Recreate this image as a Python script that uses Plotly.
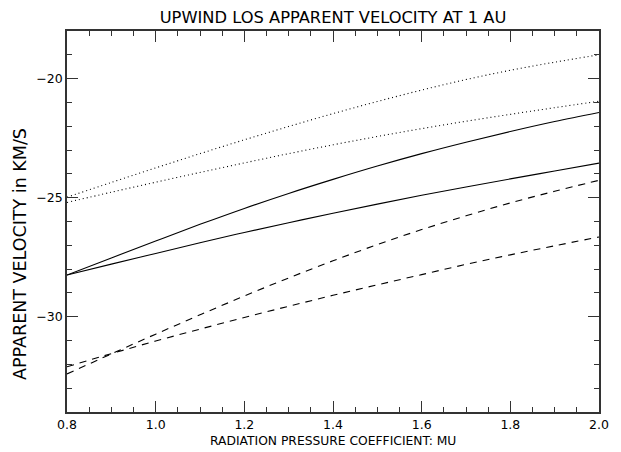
import plotly.graph_objects as go

mu = [0.8, 0.9, 1.0, 1.1, 1.2, 1.3, 1.4, 1.5, 1.6, 1.7, 1.8, 1.9, 2.0]

dotted_upper = [-24.98, -24.36, -23.75, -23.15, -22.57, -22.01, -21.47, -20.96, -20.48, -20.04, -19.65, -19.31, -19.00]
dotted_lower = [-25.20, -24.77, -24.35, -23.94, -23.54, -23.15, -22.78, -22.43, -22.10, -21.79, -21.50, -21.22, -20.95]
solid_upper = [-28.25, -27.53, -26.82, -26.12, -25.45, -24.82, -24.23, -23.67, -23.15, -22.67, -22.22, -21.80, -21.42]
solid_lower = [-28.25, -27.79, -27.34, -26.89, -26.46, -26.05, -25.65, -25.27, -24.90, -24.55, -24.21, -23.88, -23.55]
dashed_upper = [-32.40, -31.56, -30.73, -29.92, -29.13, -28.37, -27.65, -26.97, -26.34, -25.76, -25.22, -24.73, -24.27]
dashed_lower = [-32.10, -31.55, -31.02, -30.52, -30.03, -29.56, -29.10, -28.66, -28.23, -27.80, -27.40, -27.02, -26.65]

x_ticks = [0.8, 1.0, 1.2, 1.4, 1.6, 1.8, 2.0]
x_ticktext = ["0.8", "1.0", "1.2", "1.4", "1.6", "1.8", "2.0"]
y_ticks = [-30, -25, -20]
y_ticktext = ["\u221230", "\u221225", "\u221220"]

FONT = "DejaVu Sans"
fig = go.Figure()
series = [
    (dotted_upper, "1px,3px"),
    (dotted_lower, "1px,3px"),
    (solid_upper, "solid"),
    (solid_lower, "solid"),
    (dashed_upper, "7px,6px"),
    (dashed_lower, "7px,6px"),
]
for ys, dash in series:
    fig.add_trace(go.Scatter(x=mu, y=ys, mode="lines",
                             line=dict(color="black", width=1.1, dash=dash, shape="spline", smoothing=1.0),
                             showlegend=False, hoverinfo="skip"))

axis_common = dict(
    showgrid=False, zeroline=False, showline=True, linecolor="#333", linewidth=1.5,
    mirror="ticks", ticks="inside", ticklen=11, tickwidth=1.2, tickcolor="#333",
    tickfont=dict(family=FONT, size=12.5, color="black"),
)
fig.update_xaxes(range=[0.8, 2.0], tickvals=x_ticks, ticktext=x_ticktext,
                 minor=dict(dtick=0.05, ticks="inside", ticklen=5.5, tickwidth=1.2, tickcolor="#333"),
                 **axis_common)
fig.update_yaxes(range=[-34, -18], tickvals=y_ticks, ticktext=y_ticktext,
                 minor=dict(dtick=1, ticks="inside", ticklen=5.5, tickwidth=1.2, tickcolor="#333"),
                 **axis_common)

# page has an 8px body margin: figure placed at (8, 8)
W, H = 613, 444
fig.update_layout(
    width=W, height=H,
    margin=dict(l=59, r=17, t=23, b=40),
    paper_bgcolor="white", plot_bgcolor="white",
    title=dict(text="UPWIND LOS APPARENT VELOCITY AT 1 AU", x=0.5, xref="paper",
               y=1 - 9 / H, yref="container", yanchor="middle", xanchor="center",
               font=dict(family=FONT, size=16.3, color="black")),
    annotations=[
        dict(text="RADIATION PRESSURE COEFFICIENT: MU", xref="paper", yref="paper",
             x=0.5, y=-29 / 381, xanchor="center", yanchor="middle", showarrow=False,
             font=dict(family=FONT, size=12.3, color="black")),
        dict(text="APPARENT VELOCITY in KM/S", xref="paper", yref="paper",
             x=(19 - 67) / 537, y=(412 - 253.5) / 381, xanchor="center", yanchor="middle",
             showarrow=False, textangle=-90, font=dict(family=FONT, size=17.5, color="black")),
    ],
)

fig.write_html("out.html")
